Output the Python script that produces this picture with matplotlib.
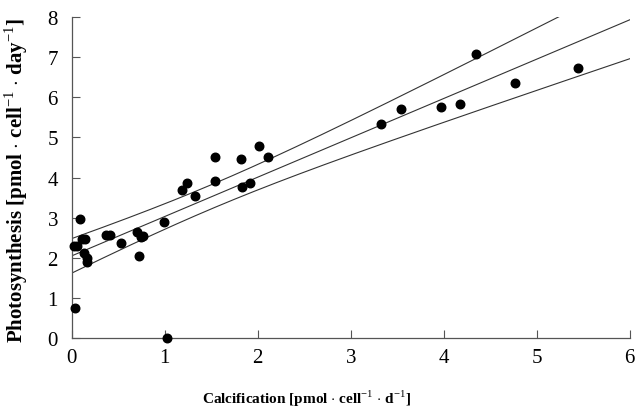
import matplotlib
matplotlib.use("Agg")
import matplotlib.pyplot as plt
import numpy as np

plt.rcParams['font.family'] = ['Liberation Serif', 'DejaVu Serif']
plt.rcParams['mathtext.fontset'] = 'custom'
plt.rcParams['mathtext.rm'] = 'Liberation Serif'
plt.rcParams['mathtext.bf'] = 'Liberation Serif:bold'

# calcification vs photosynthesis per cell
calc = [0.03, 0.02, 0.06, 0.09, 0.11, 0.14, 0.13, 0.16, 0.16,
        0.37, 0.41, 0.53, 0.70, 0.72, 0.74, 0.77, 0.99, 1.02,
        1.18, 1.24, 1.32, 1.54, 1.54, 1.82, 1.83, 1.92, 2.01, 2.11,
        3.32, 3.54, 3.97, 4.18, 4.35, 4.77, 5.44]
photo = [0.75, 2.29, 2.29, 2.97, 2.47, 2.47, 2.12, 2.00, 1.90,
         2.57, 2.57, 2.37, 2.64, 2.05, 2.52, 2.54, 2.89, 0.00,
         3.69, 3.87, 3.54, 4.51, 3.91, 4.46, 3.77, 3.87, 4.79, 4.51,
         5.34, 5.71, 5.76, 5.84, 7.08, 6.36, 6.73]

# fitted regression line and confidence band
intercept = 2.05
slope = 0.98
band_a = 0.0905   # band variance at centre
band_b = 0.042    # growth of band variance
band_x0 = 1.5

fig = plt.figure(figsize=(6.36, 4.10), dpi=100)
ax = fig.add_axes([0.113, 0.173, 0.877, 0.783])

xs = np.linspace(0, 6, 200)
fit = intercept + slope * xs
half = np.sqrt(band_a + band_b * (xs - band_x0) ** 2)
ax.plot(xs, fit, color='#333333', lw=0.8)
ax.plot(xs, fit + half, color='#333333', lw=0.8)
ax.plot(xs, fit - half, color='#333333', lw=0.8)

ax.scatter(calc, photo, s=38, color='black', zorder=3, clip_on=False)

ax.set_xlim(0, 6)
ax.set_ylim(0, 8)
ax.set_xticks(range(0, 7))
ax.set_yticks(range(0, 9))
for s in ['top', 'right']:
    ax.spines[s].set_visible(False)
for s in ['left', 'bottom']:
    ax.spines[s].set_color('#555555')
    ax.spines[s].set_linewidth(0.9)
ax.tick_params(direction='in', length=6, width=0.8, color='#555555',
               labelsize=15)
ax.tick_params(axis='y', pad=10)
ax.tick_params(axis='x', pad=7)

ax.set_xlabel(r'Calcification [pmol $\cdot$ cell$^{-1}$ $\cdot$ d$^{-1}$]',
              fontsize=11, fontweight='bold')
ax.set_ylabel(r'Photosynthesis [pmol $\cdot$ cell$^{-1}$ $\cdot$ day$^{-1}$]',
              fontsize=15, fontweight='bold')
ax.xaxis.set_label_coords(0.42, -0.155)
ax.yaxis.set_label_coords(-0.075, 0.495)

fig.savefig('out.png', dpi=100)
